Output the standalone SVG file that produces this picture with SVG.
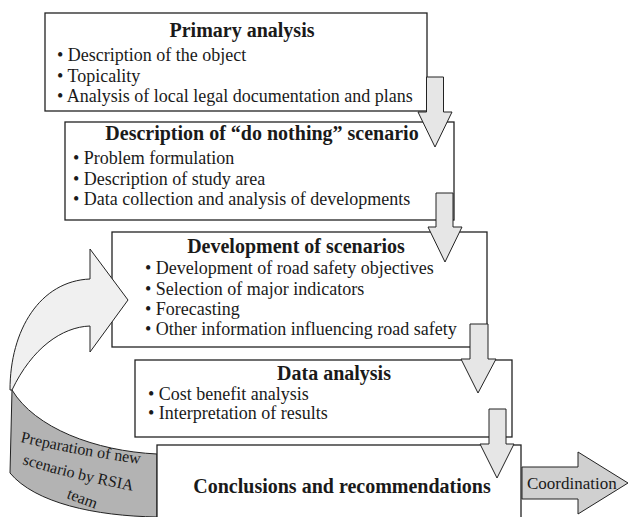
<svg xmlns="http://www.w3.org/2000/svg" width="630" height="517" viewBox="0 0 630 517">
<style>
.box{fill:#fff;stroke:#222;stroke-width:1.3}
.arr{fill:#e6e6e6;stroke:#222;stroke-width:1}
.t{font-family:"Liberation Serif","Times New Roman",serif;font-size:18px;fill:#1a1a1a}
.h{font-weight:bold;font-size:20px;text-anchor:middle}
.c{font-size:17px}
.s{font-size:16px}
</style>
<defs>
<path id="p1" d="M 20,442 Q 90,458 156,466"/>
<path id="p2" d="M 22,464 Q 88,484 152,494"/>
<path id="p3" d="M 66,498 L 98,510"/>
</defs>
<rect width="630" height="517" fill="#fff"/>
<g id="connectors-back">
<path d="M 12,390 C 35,428 95,451 157,454 L 157,517 C 95,516 35,503 10,473 Z" fill="#b3b3b3" stroke="#222" stroke-width="1"/>
</g>
<g id="primary">
<rect class="box" x="45" y="13" width="382" height="98"/>
<text class="t h" x="242" y="37">Primary analysis</text>
<text class="t" x="57" y="61">• Description of the object</text>
<text class="t" x="57" y="82">• Topicality</text>
<text class="t" x="57" y="102">• Analysis of local legal documentation and plans</text>
</g>
<g id="donothing">
<rect class="box" x="65" y="122" width="389" height="98"/>
<text class="t h" x="262" y="140">Description of “do nothing” scenario</text>
<text class="t" x="73" y="164">• Problem formulation</text>
<text class="t" x="73" y="185">• Description of study area</text>
<text class="t" x="73" y="205">• Data collection and analysis of developments</text>
</g>
<g id="scenarios">
<rect class="box" x="112" y="232" width="375" height="115"/>
<text class="t h" x="296" y="253">Development of scenarios</text>
<text class="t" x="145" y="274">• Development of road safety objectives</text>
<text class="t" x="145" y="295">• Selection of major indicators</text>
<text class="t" x="145" y="315">• Forecasting</text>
<text class="t" x="145" y="335">• Other information influencing road safety</text>
</g>
<g id="data">
<rect class="box" x="135" y="360" width="377" height="77"/>
<text class="t h" x="334" y="380">Data analysis</text>
<text class="t" x="148" y="400">• Cost benefit analysis</text>
<text class="t" x="148" y="419">• Interpretation of results</text>
</g>
<g id="conclusions">
<rect class="box" x="157" y="445" width="364" height="80"/>
<text class="t h" x="342" y="493">Conclusions and recommendations</text>
</g>
<g id="connectors">
<polygon class="arr" points="426.5,77 443.5,77 443.5,112 452,112 435,147 418,112 426.5,112"/>
<polygon class="arr" points="436,193 453,193 453,227 462,227 445,262 428,227 436,227"/>
<polygon class="arr" points="470,324 488,324 488,359 496,359 478,393 461,359 470,359"/>
<polygon class="arr" points="489,409 506,409 506,444 514,444 497,478 480,444 489,444"/>
<g id="coordination">
<polygon points="522,467 578,467 578,452 628,483 578,514 578,499 522,499" fill="#d0d0d0" stroke="#222" stroke-width="1"/>
<text class="t c" x="527" y="489">Coordination</text>
</g>
<g id="feedback">
<path d="M 90,279 L 90,249 L 128,300 L 90,352 L 90,326 C 62,327 32,348 12,390 L 10,390 C 10,330 40,281 90,279 Z" fill="#f0f0f0" stroke="#222" stroke-width="1"/>
<text class="t s"><textPath href="#p1">Preparation of new</textPath></text>
<text class="t s"><textPath href="#p2">scenario by RSIA</textPath></text>
<text class="t s"><textPath href="#p3">team</textPath></text>
</g>
</g>
</svg>
